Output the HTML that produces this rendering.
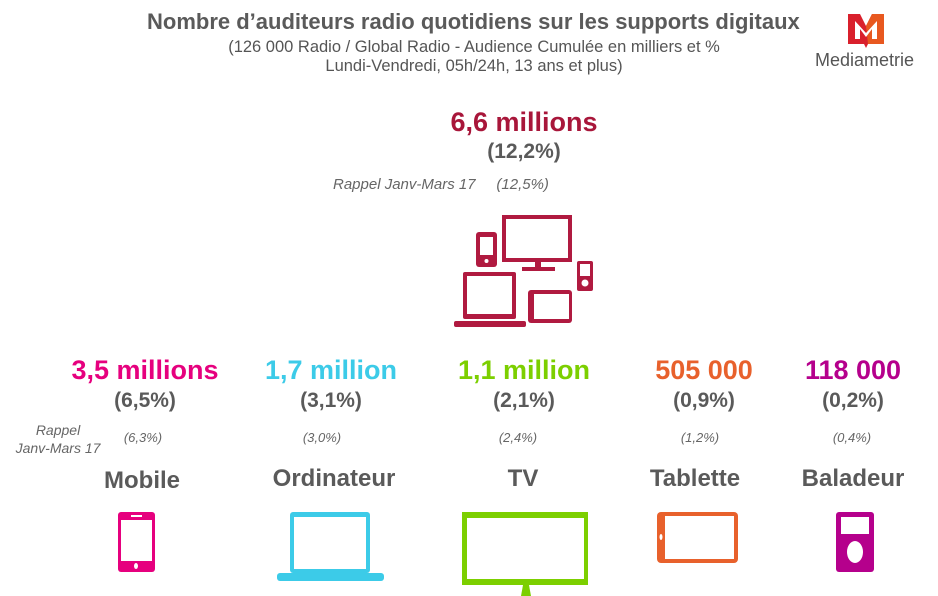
<!DOCTYPE html>
<html><head><meta charset="utf-8"><style>
body{margin:0;width:938px;height:596px;background:#fff;position:relative;overflow:hidden;font-family:"Liberation Sans",sans-serif;color:#595959}
.a{position:absolute;white-space:nowrap}
.c{text-align:center;transform:translateX(-50%)}
.big{font-weight:bold;font-size:27px}
.pct{font-weight:bold;font-size:21px;color:#5a5a5a}
.rp{font-style:italic;font-size:15px;color:#666}
.lab{font-weight:bold;font-size:24px;color:#5a5a5a}
</style></head><body>
<div class="a" style="left:147px;top:9px;font-weight:bold;font-size:22px;color:#5a5a5a">Nombre d’auditeurs radio quotidiens sur les supports digitaux</div>
<div class="a c" style="left:474px;top:38px;font-size:16.5px;color:#555">(126 000 Radio / Global Radio - Audience Cumulée en milliers et %</div>
<div class="a c" style="left:474px;top:57px;font-size:16.5px;color:#555">Lundi-Vendredi, 05h/24h, 13 ans et plus)</div>
<svg class="a" style="left:846px;top:12px" width="40" height="38" viewBox="0 0 40 38"><path d="M2 2H14L20 14L26 2H38V32H22L20 36L18 32H2Z" fill="#d9202c"/><path d="M20 14L26 2H38V32H22Z" fill="#e8581f"/><path d="M9 9V27H14V17L20 25L26 17V27H31V9L20 21Z" fill="#fff"/></svg>
<div class="a" style="left:815px;top:50px;font-size:18px;color:#555">Mediametrie</div>

<div class="a c big" style="left:524px;top:107px;color:#a8163a">6,6 millions</div>
<div class="a c pct" style="left:524px;top:140px">(12,2%)</div>
<div class="a rp" style="left:333px;top:176px">Rappel Janv-Mars 17 &nbsp;&nbsp;&nbsp;&nbsp;(12,5%)</div>

<svg class="a" style="left:440px;top:200px" width="170" height="140" viewBox="0 0 170 140" fill="#b01a40">
<rect x="36" y="32" width="21" height="35" rx="3"/><rect x="40" y="37" width="13" height="18" fill="#fff"/><circle cx="46.5" cy="61" r="2" fill="#fff"/>
<rect x="62" y="15" width="70" height="47"/><rect x="66" y="19" width="62" height="39" fill="#fff"/><rect x="95" y="62" width="6" height="6"/><rect x="82" y="67" width="33" height="4"/>
<rect x="137" y="61" width="16" height="30" rx="2"/><rect x="140" y="64" width="10" height="12" fill="#fff"/><circle cx="145" cy="83" r="3.5" fill="#fff"/>
<rect x="23" y="72" width="53" height="47" rx="2"/><rect x="27" y="76" width="45" height="38" fill="#fff"/><rect x="14" y="121" width="72" height="6" rx="2"/>
<rect x="88" y="90" width="44" height="33" rx="3"/><rect x="94" y="94" width="35" height="25" fill="#fff"/>
</svg>

<div class="a c big" style="left:145px;top:355px;color:#e6007e">3,5 millions</div>
<div class="a c big" style="left:331px;top:355px;color:#3ccbe8">1,7 million</div>
<div class="a c big" style="left:524px;top:355px;color:#7ccf00">1,1 million</div>
<div class="a c big" style="left:704px;top:355px;color:#e8612c">505 000</div>
<div class="a c big" style="left:853px;top:355px;color:#b5008c">118 000</div>

<div class="a c pct" style="left:145px;top:389px">(6,5%)</div>
<div class="a c pct" style="left:331px;top:389px">(3,1%)</div>
<div class="a c pct" style="left:524px;top:389px">(2,1%)</div>
<div class="a c pct" style="left:704px;top:389px">(0,9%)</div>
<div class="a c pct" style="left:853px;top:389px">(0,2%)</div>

<div class="a c rp" style="left:58px;top:422px;font-size:14px">Rappel</div>
<div class="a c rp" style="left:58px;top:440px;font-size:14px">Janv-Mars 17</div>
<div class="a c rp" style="left:143px;top:430px;font-size:13px">(6,3%)</div>
<div class="a c rp" style="left:322px;top:430px;font-size:13px">(3,0%)</div>
<div class="a c rp" style="left:518px;top:430px;font-size:13px">(2,4%)</div>
<div class="a c rp" style="left:700px;top:430px;font-size:13px">(1,2%)</div>
<div class="a c rp" style="left:852px;top:430px;font-size:13px">(0,4%)</div>

<div class="a c lab" style="left:142px;top:467px">Mobile</div>
<div class="a c lab" style="left:334px;top:465px">Ordinateur</div>
<div class="a c lab" style="left:523px;top:465px">TV</div>
<div class="a c lab" style="left:695px;top:465px">Tablette</div>
<div class="a c lab" style="left:853px;top:465px">Baladeur</div>

<svg class="a" style="left:0;top:500px" width="938" height="96">
<g fill="#e6007e"><rect x="118" y="12" width="37" height="60" rx="3"/><rect x="121" y="20" width="31" height="41" fill="#fff"/><rect x="131" y="15" width="11" height="2" fill="#fff"/><ellipse cx="136" cy="66" rx="2" ry="3" fill="#fff"/></g>
<g fill="#3ccbe8"><rect x="290" y="12" width="80" height="61" rx="3"/><rect x="294" y="17" width="72" height="52" fill="#fff"/><rect x="277" y="73" width="107" height="8" rx="3"/></g>
<g fill="#7ccf00"><rect x="462" y="12" width="126" height="73"/><rect x="467" y="18" width="117" height="61" fill="#fff"/><polygon points="523,85 529,85 531,96 521,96"/></g>
<g fill="#e8612c"><rect x="657" y="12" width="81" height="51" rx="4"/><rect x="665" y="16" width="69" height="43" fill="#fff"/><ellipse cx="661" cy="37" rx="1.5" ry="3" fill="#fff"/></g>
<g fill="#b5008c"><rect x="836" y="12" width="38" height="60" rx="3"/><rect x="841" y="17" width="28" height="17" fill="#fff"/><ellipse cx="855" cy="52" rx="8" ry="11" fill="#fff"/></g>
</svg>
</body></html>
